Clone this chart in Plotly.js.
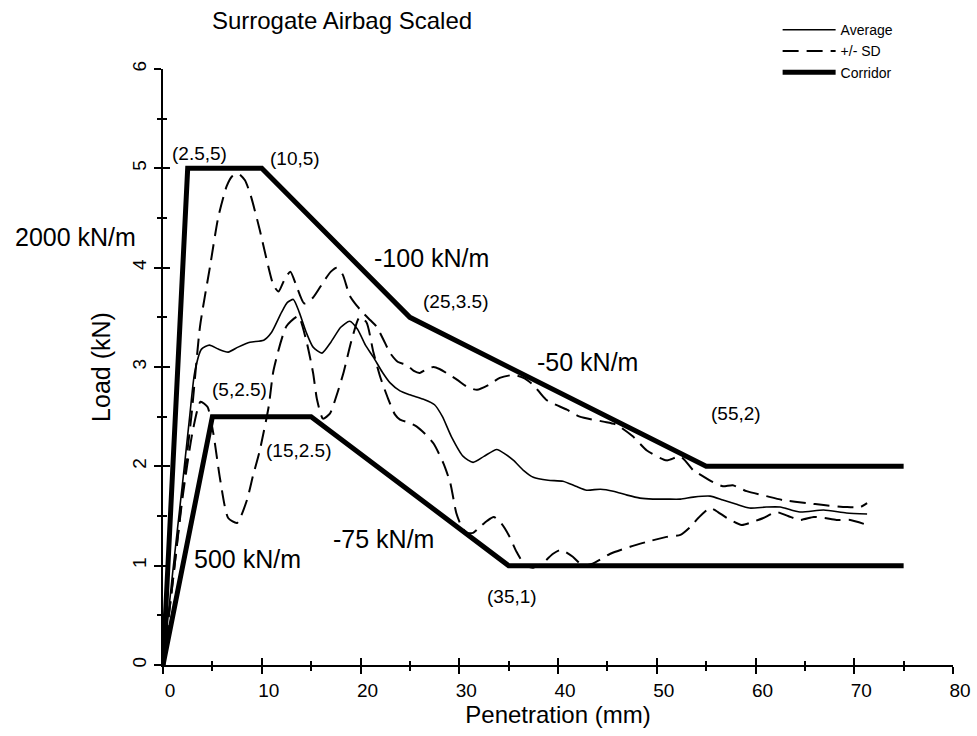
<!DOCTYPE html>
<html>
<head>
<meta charset="utf-8">
<script src="https://cdn.plot.ly/plotly-3.0.1.min.js"></script>
<style>html,body{margin:0;padding:0;background:#fff;}#chart{width:977px;height:736px;}</style>
</head>
<body>
<div id="chart"></div>
<script>
// ---- data ----
const avgX = [0,1,2,2.7,3.2,3.9,4.7,5.6,6.6,7.6,8.8,10.2,11,12,12.6,13.2,13.8,14.5,15.2,16.1,17,18,18.9,19.7,20.5,21.3,22.2,23,24,25,26.5,27.5,28.3,29.2,30.4,31.4,32.5,33.8,34.7,35.5,36.5,37.5,39,40.5,41.8,42.9,44.3,45.6,47,48.3,49.6,51,52.4,53.7,55.4,56.7,58,59.4,61.1,62.5,64.5,66.9,69.2,71.3];
const avgY = [0,0.95,1.85,2.5,2.94,3.18,3.22,3.18,3.15,3.2,3.25,3.27,3.35,3.55,3.65,3.68,3.55,3.35,3.2,3.14,3.25,3.4,3.46,3.38,3.22,3.1,2.95,2.84,2.76,2.72,2.67,2.62,2.5,2.3,2.1,2.04,2.1,2.17,2.12,2.06,1.96,1.89,1.86,1.85,1.8,1.76,1.77,1.75,1.71,1.68,1.67,1.67,1.67,1.69,1.70,1.66,1.62,1.58,1.59,1.59,1.54,1.56,1.53,1.52];

const sdHiX = [0,1,2,2.9,3.75,4.76,5.6,6.45,7.0,7.6,8.3,8.9,9.8,10.5,11.2,11.7,12.3,12.9,13.5,14.3,15.2,16.2,17,17.6,18.2,18.9,19.6,20.3,21,21.6,22.3,23,23.8,24.7,25.4,26,26.7,27.4,28,28.7,29.8,30.8,31.8,33,34.1,35.5,36.5,37.5,38.8,40.9,42.2,44.6,45.9,47.6,49,51,52.4,53.7,54.2,55.7,56.7,57.7,59.1,61.1,62.8,65.2,66.9,69.2,70.6,71.3];
const sdHiY = [0,0.85,1.75,2.53,3.41,4.01,4.51,4.82,4.92,4.95,4.88,4.72,4.38,4.08,3.82,3.76,3.88,3.96,3.82,3.64,3.7,3.85,3.96,4.0,3.93,3.72,3.62,3.54,3.47,3.41,3.28,3.14,3.05,3.02,2.96,2.94,2.98,3.0,2.98,2.94,2.87,2.80,2.77,2.82,2.89,2.92,2.89,2.82,2.67,2.57,2.50,2.45,2.42,2.30,2.16,2.06,2.10,1.96,1.93,1.84,1.80,1.81,1.75,1.70,1.66,1.63,1.61,1.59,1.59,1.63];

const sdLoX = [0,1,2,3,3.8,4.5,5.1,5.8,6.6,7.5,8.5,9.1,9.8,10.7,11.2,12.5,13.7,14.5,15.2,15.6,16.2,16.9,17.6,18.3,19.1,19.9,20.6,21.3,22,22.8,23.5,24,24.9,25.7,26.5,27.4,28.4,29.1,29.7,30.2,30.7,31.4,32.1,32.8,33.5,34.3,35.1,35.8,36.7,37.5,38.5,39.5,40.3,41.5,42.5,43.5,45.3,47.3,49,51,52.4,53.5,54.2,55.4,56.2,57.1,58.6,59.7,60.8,62.1,63.3,64.5,65.9,67,68.2,69.6,71.3];
const sdLoY = [0,0.85,1.7,2.35,2.65,2.6,2.33,1.86,1.48,1.43,1.66,1.9,2.16,2.6,2.97,3.41,3.51,3.27,2.94,2.67,2.48,2.53,2.72,2.95,3.27,3.5,3.45,3.15,2.9,2.68,2.52,2.47,2.44,2.40,2.33,2.23,2.03,1.83,1.53,1.4,1.33,1.33,1.39,1.45,1.49,1.42,1.29,1.14,1.0,0.98,1.03,1.12,1.16,1.09,1.0,1.02,1.12,1.19,1.24,1.29,1.31,1.4,1.48,1.58,1.54,1.48,1.41,1.44,1.48,1.54,1.5,1.46,1.49,1.48,1.46,1.46,1.41];

const corUpX = [0,2.5,10,25,55,75];
const corUpY = [0,5,5,3.5,2,2];
const corLoX = [0,5,15,35,75];
const corLoY = [0,2.5,2.5,1,1];

const xTickVals = [0,10,20,30,40,50,60,70,80];
const yTickVals = [0,1,2,3,4,5,6];

const labelText = ["(2.5,5)","(10,5)","(25,3.5)","(55,2)","(5,2.5)","(15,2.5)","(35,1)"];
const labelX = [3.65,13.4,29.6,58.0,7.7,13.7,35.3];
const labelY = [5.15,5.10,3.66,2.53,2.77,2.16,0.69];

const slopeText = ["-100 kN/m","-50 kN/m","500 kN/m","-75 kN/m"];
const slopeX = [27.2,43.0,8.6,22.3];
const slopeY = [4.10,3.05,1.07,1.27];
// label sitting left of the y axis (placed in paper x)
const sideText = "2000 kN/m";
const sideY = 4.31;

// ---- styling ----
const SANS = '"Liberation Sans", Arial, sans-serif';
const BLK = '#000';
const SMOOTH = {shape:'spline', smoothing:0.6};

const traces = [
  {x: avgX, y: avgY, type:'scatter', mode:'lines', name:'Average',
   line:Object.assign({color:BLK, width:1.6}, SMOOTH), legendgroup:'a', hoverinfo:'skip'},
  {x: sdHiX, y: sdHiY, type:'scatter', mode:'lines', name:'+/- SD',
   line:Object.assign({color:BLK, width:2, dash:'16px,8px'}, SMOOTH), legendgroup:'s', hoverinfo:'skip'},
  {x: sdLoX, y: sdLoY, type:'scatter', mode:'lines', name:'+/- SD', showlegend:false,
   line:Object.assign({color:BLK, width:2, dash:'16px,8px'}, SMOOTH), legendgroup:'s', hoverinfo:'skip'},
  {x: corUpX, y: corUpY, type:'scatter', mode:'lines', name:'Corridor',
   line:{color:BLK, width:5}, legendgroup:'c', hoverinfo:'skip'},
  {x: corLoX, y: corLoY, type:'scatter', mode:'lines', name:'Corridor', showlegend:false,
   line:{color:BLK, width:5}, legendgroup:'c', hoverinfo:'skip'},
  // empty trace to realise the overlay axes (inner tick halves)
  {x: [], y: [], type:'scatter', mode:'lines', xaxis:'x2', yaxis:'y2', showlegend:false, hoverinfo:'skip'}
];

const annotations = [];
labelText.forEach((t,i)=>annotations.push({text:t, x:labelX[i], y:labelY[i], xref:'x', yref:'y',
  showarrow:false, font:{family:SANS, size:19, color:BLK}}));
slopeText.forEach((t,i)=>annotations.push({text:t, x:slopeX[i], y:slopeY[i], xref:'x', yref:'y',
  showarrow:false, font:{family:SANS, size:25, color:BLK}}));
annotations.push({text:sideText, x:-0.111, y:sideY, xref:'paper', yref:'y', xanchor:'center',
  showarrow:false, font:{family:SANS, size:25, color:BLK}});

const tickCommon = {tickcolor:BLK, tickwidth:2, showgrid:false, zeroline:false};

const layout = {
  width:977, height:736,
  margin:{l:163, r:24, t:69, b:71},
  paper_bgcolor:'#fff', plot_bgcolor:'#fff',
  title:{text:'Surrogate Airbag Scaled', x:0.2266, xref:'paper', xanchor:'center',
         y:0.972, yanchor:'middle', font:{family:SANS, size:24, color:BLK}},
  showlegend:true,
  legend:{x:0.778, y:1.092, xanchor:'left', yanchor:'top', bgcolor:'rgba(0,0,0,0)',
          font:{family:SANS, size:14, color:BLK}, tracegroupgap:0, itemwidth:53},
  xaxis:Object.assign({}, tickCommon, {
    range:[0,80], tickmode:'array', tickvals:xTickVals, ticks:'outside', ticklen:7,
    showline:true, linecolor:BLK, linewidth:2, ticklabelshift:7,
    minor:{dtick:5, ticks:'outside', ticklen:4, tickwidth:2, tickcolor:BLK, showgrid:false},
    tickfont:{family:SANS, size:19, color:BLK},
    title:{text:'Penetration (mm)', font:{family:SANS, size:24, color:BLK}, standoff:6}
  }),
  yaxis:Object.assign({}, tickCommon, {
    range:[0,6], tickmode:'array', tickvals:yTickVals, ticks:'outside', ticklen:7,
    showline:true, linecolor:BLK, linewidth:2, tickangle:-90,
    minor:{dtick:0.5, ticks:'outside', ticklen:4, tickwidth:2, tickcolor:BLK, showgrid:false},
    tickfont:{family:SANS, size:19, color:BLK},
    title:{text:'Load (kN)', font:{family:SANS, size:25, color:BLK}, standoff:12}
  }),
  xaxis2:Object.assign({}, tickCommon, {
    overlaying:'x', anchor:'y2', side:'bottom', range:[0,80], tickmode:'array', tickvals:xTickVals,
    ticks:'inside', ticklen:7, showticklabels:false, showline:false,
    minor:{dtick:5, ticks:'inside', ticklen:4, tickwidth:2, tickcolor:BLK, showgrid:false}
  }),
  yaxis2:Object.assign({}, tickCommon, {
    overlaying:'y', anchor:'x2', side:'left', range:[0,6], tickmode:'array', tickvals:yTickVals,
    ticks:'inside', ticklen:7, showticklabels:false, showline:false,
    minor:{dtick:0.5, ticks:'inside', ticklen:4, tickwidth:2, tickcolor:BLK, showgrid:false}
  }),
  annotations: annotations
};

Plotly.newPlot('chart', traces, layout, {displayModeBar:false, staticPlot:true});
</script>
</body>
</html>
